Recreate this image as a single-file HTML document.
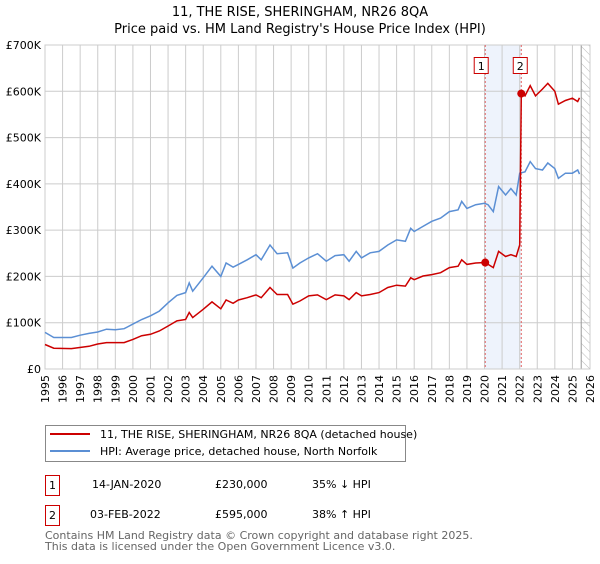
<!DOCTYPE html>
<html><head><meta charset="utf-8"><style>
body{margin:0;background:#fff;font-family:"DejaVu Sans","Liberation Sans",sans-serif;}
svg text{font-family:"DejaVu Sans","Liberation Sans",sans-serif;}
</style></head><body>
<svg id="c" width="600" height="560" xmlns="http://www.w3.org/2000/svg">
<defs><pattern id="hatch" width="6" height="6" patternUnits="userSpaceOnUse" patternTransform="rotate(-45)"><line x1="0" y1="0" x2="0" y2="6" stroke="#bbb" stroke-width="1"/></pattern></defs>
<text x="300" y="16" text-anchor="middle" font-size="13">11, THE RISE, SHERINGHAM, NR26 8QA</text>
<text x="300" y="33" text-anchor="middle" font-size="13">Price paid vs. HM Land Registry's House Price Index (HPI)</text>
<g id="grid"></g><g id="marks"></g><g id="axes"></g>
<g>
<rect x="45.5" y="425.5" width="360" height="36" fill="#fff" stroke="#888"/>
<line x1="50" y1="434" x2="90" y2="434" stroke="#cc0000" stroke-width="2"/>
<text x="100" y="438" font-size="11">11, THE RISE, SHERINGHAM, NR26 8QA (detached house)</text>
<line x1="50" y1="451" x2="90" y2="451" stroke="#5b8fd4" stroke-width="2"/>
<text x="100" y="455" font-size="11">HPI: Average price, detached house, North Norfolk</text>
</g>
<g font-size="11">
<rect x="45.5" y="475.5" width="14" height="20" fill="#fff" stroke="#cc0000"/><text x="52.5" y="489" text-anchor="middle">1</text>
<text x="92" y="488">14-JAN-2020</text><text x="215" y="488">£230,000</text><text x="312" y="488">35% ↓ HPI</text>
<rect x="45.5" y="505.5" width="14" height="20" fill="#fff" stroke="#cc0000"/><text x="52.5" y="519" text-anchor="middle">2</text>
<text x="90" y="518">03-FEB-2022</text><text x="215" y="518">£595,000</text><text x="312" y="518">38% ↑ HPI</text>
</g>
<text x="45" y="539" font-size="11" fill="#666">Contains HM Land Registry data © Crown copyright and database right 2025.</text>
<text x="45" y="550" font-size="11" fill="#666">This data is licensed under the Open Government Licence v3.0.</text>
</svg>
<script>
const yearTicks=[1995,1996,1997,1998,1999,2000,2001,2002,2003,2004,2005,2006,2007,2008,2009,2010,2011,2012,2013,2014,2015,2016,2017,2018,2019,2020,2021,2022,2023,2024,2025,2026];
const priceTicks=[0,100000,200000,300000,400000,500000,600000,700000];
const priceTickLabels=["£0","£100K","£200K","£300K","£400K","£500K","£600K","£700K"];
const hpiDates=[1995.0,1995.5,1996.5,1997,1997.5,1998,1998.5,1999,1999.5,2000,2000.5,2001,2001.5,2002,2002.5,2003,2003.2,2003.4,2004,2004.5,2005,2005.3,2005.7,2006,2006.5,2007,2007.3,2007.8,2008.2,2008.8,2009.1,2009.5,2010,2010.5,2011,2011.5,2012,2012.3,2012.7,2013,2013.5,2014,2014.5,2015,2015.5,2015.8,2016,2016.5,2017,2017.5,2018,2018.5,2018.7,2019,2019.5,2020,2020.2,2020.5,2020.8,2021.2,2021.5,2021.8,2022.0,2022.3,2022.6,2022.9,2023.3,2023.6,2024,2024.2,2024.6,2025.0,2025.3,2025.4];
const hpiValues=[79,68,68,73,77,80,86,85,87,97,107,115,125,143,159,165,186,168,197,222,200,229,220,226,236,247,236,268,249,251,218,229,240,249,233,245,247,233,254,240,251,254,268,279,276,304,297,308,319,326,340,344,362,347,355,358,355,340,394,376,390,376,423,426,448,433,430,445,433,412,423,423,430,421];
const priceDates=[1995.0,1995.5,1996.5,1997.5,1998,1998.5,1999.5,2000,2000.5,2001,2001.5,2002,2002.5,2003,2003.2,2003.4,2004,2004.5,2005,2005.3,2005.7,2006,2006.5,2007,2007.3,2007.8,2008.2,2008.8,2009.1,2009.5,2010,2010.5,2011,2011.5,2012,2012.3,2012.7,2013,2013.5,2014,2014.5,2015,2015.5,2015.8,2016,2016.5,2017,2017.5,2018,2018.5,2018.7,2019,2019.5,2020.04,2020.5,2020.8,2021.2,2021.5,2021.8,2022.0,2022.09,2022.3,2022.6,2022.9,2023.3,2023.6,2024,2024.2,2024.6,2025.0,2025.3,2025.4];
const priceValues=[53,45,44,49,54,57,57,64,72,75,82,93,104,107,122,111,129,145,130,149,142,149,154,160,154,176,161,161,140,147,158,160,150,160,158,150,165,158,161,165,176,181,179,197,193,201,204,208,219,222,236,226,229,230,219,254,243,247,243,268,595,590,612,590,605,617,600,572,580,585,578,586];
const saleDates=[2020.04,2022.09];
const salePrices=[230,595];
const saleLabels=["1","2"];
const X0=45,X1=590,Y0=369,Y1=45;
const x=d=>X0+(d-1995)/(2026-1995)*(X1-X0);
const y=v=>Y0-v/700000*(Y0-Y1);
const NS="http://www.w3.org/2000/svg";
function mk(p,t,a){const e=document.createElementNS(NS,t);for(const k in a)e.setAttribute(k,a[k]);p.appendChild(e);return e;}
const grid=document.getElementById('grid'),marks=document.getElementById('marks'),axes=document.getElementById('axes');
// shaded band
let band=mk(grid,'rect',{x:x(saleDates[0]),y:Y1,width:x(saleDates[1])-x(saleDates[0]),height:Y0-Y1,fill:'#eef3fc'});


yearTicks.forEach(t=>{const l=mk(grid,'line',{x1:x(t),x2:x(t),y1:Y1,y2:Y0,stroke:'#ccc'});

});
priceTicks.forEach((t,i)=>{const l=mk(grid,'line',{x1:X0,x2:X1,y1:y(t),y2:y(t),stroke:'#ccc'});


const tx=mk(axes,'text',{x:X0-4,y:y(t)+4,'text-anchor':'end','font-size':11});tx.textContent=priceTickLabels[i];

});
yearTicks.forEach(t=>{const tx=mk(axes,'text',{transform:`translate(${x(t)+4},${Y0+6}) rotate(-90)`,'text-anchor':'end','font-size':11});tx.textContent=t;

});
// hatch future
const hx=x(2025.5);
let h=mk(grid,'rect',{x:hx,y:Y1,width:X1-hx,height:Y0-Y1,fill:'url(#hatch)'});


mk(grid,'line',{x1:hx,x2:hx,y1:Y1,y2:Y0,stroke:'#999'});
mk(grid,'rect',{x:X0,y:Y1,width:X1-X0,height:Y0-Y1,fill:'none',stroke:'#ccc'});
saleDates.forEach((d,i)=>{const l=mk(marks,'line',{x1:x(d),x2:x(d),y1:Y1,y2:Y0,stroke:'#e06060','stroke-dasharray':'2,2'});


const g=mk(marks,'g',{});


mk(g,'rect',{x:x(d)-(i==0?11:8),y:57.5,width:14,height:16,fill:'#fff',stroke:'#cc0000'});
const t=mk(g,'text',{x:x(d)-(i==0?4:1),y:70,'text-anchor':'middle','font-size':11});t.textContent=saleLabels[i];});
const pts=(ds,vs)=>ds.map((d,i)=>x(d).toFixed(1)+','+y(vs[i]*1000).toFixed(1)).join(' ');
let hp=mk(marks,'polyline',{points:pts(hpiDates,hpiValues),fill:'none',stroke:'#5b8fd4','stroke-width':1.5});


let pp=mk(marks,'polyline',{points:pts(priceDates,priceValues),fill:'none',stroke:'#cc0000','stroke-width':1.5});


saleDates.forEach((d,i)=>{const c=mk(marks,'circle',{cx:x(d),cy:y(salePrices[i]*1000),r:4,fill:'#cc0000'});

});
</script>
</body></html>
